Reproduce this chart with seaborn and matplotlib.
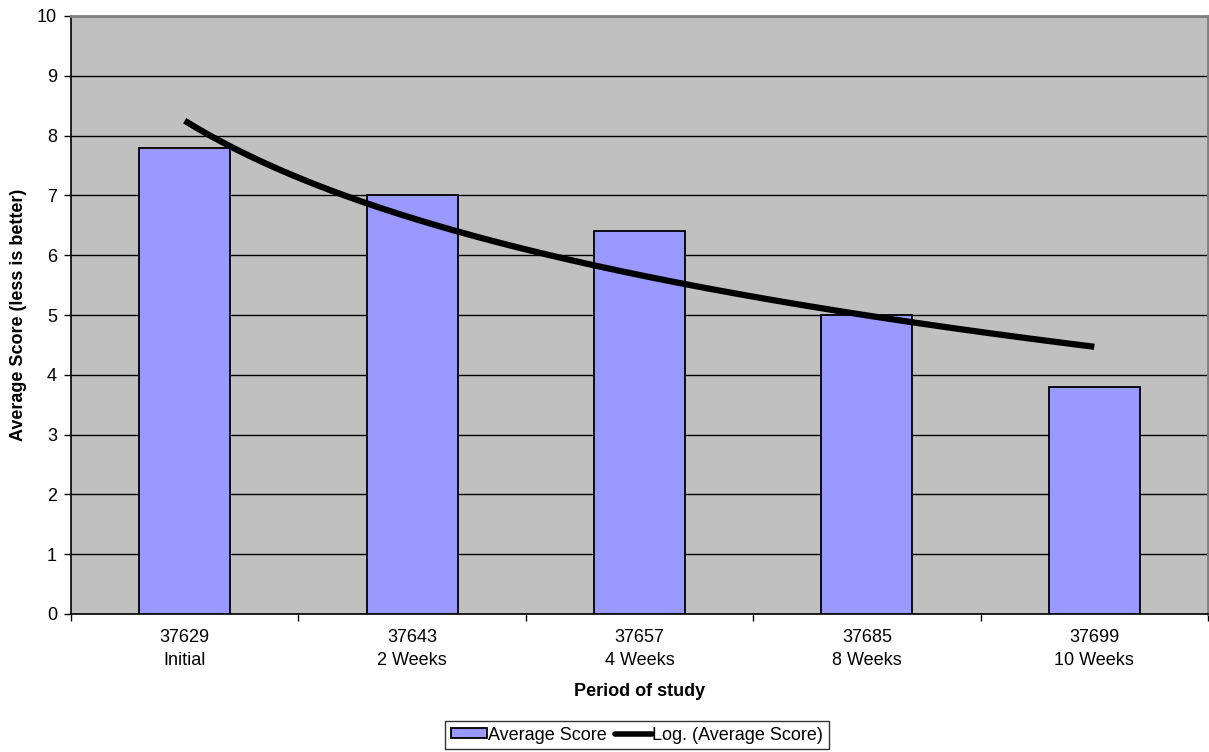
import numpy as np
import pandas as pd
import matplotlib
matplotlib.use("Agg")
import matplotlib.pyplot as plt
import seaborn as sns
from matplotlib.patches import Patch
from matplotlib.lines import Line2D

dates = ["37629", "37643", "37657", "37685", "37699"]
periods = ["Initial", "2 Weeks", "4 Weeks", "8 Weeks", "10 Weeks"]
scores = [7.8, 7.0, 6.4, 5.0, 3.8]

labels = [f"{d}\n{p}" for d, p in zip(dates, periods)]
df = pd.DataFrame({"Period": labels, "Score": scores})

sns.set_theme(style="white")
plt.rcParams["font.family"] = ["Liberation Sans", "DejaVu Sans"]
plt.rcParams["text.color"] = "black"
plt.rcParams["axes.labelcolor"] = "black"
plt.rcParams["xtick.color"] = "black"
plt.rcParams["ytick.color"] = "black"

fig = plt.figure(figsize=(12.09, 7.52), dpi=100)
ax = fig.add_axes([71 / 1209, 1 - 614 / 752, (1208 - 71) / 1209, (614 - 16) / 752])
ax.set_facecolor("#C0C0C0")

sns.barplot(data=df, x="Period", y="Score", ax=ax, color="#9999FF",
            saturation=1, width=0.4, edgecolor="black", linewidth=1.3, zorder=3)

# logarithmic trendline y = a*ln(x) + b fitted to the data
xi = np.arange(1, len(scores) + 1)
a, b = np.polyfit(np.log(xi), scores, 1)
xs = np.linspace(1, len(scores), 200)
ax.plot(xs - 1, a * np.log(xs) + b, color="black", lw=4.5, zorder=4,
        solid_capstyle="butt")

ax.set_xlim(-0.5, len(scores) - 0.5)
ax.set_ylim(0, 10)
ax.set_yticks(range(0, 11))
ax.yaxis.grid(True, color="black", lw=1)
ax.set_axisbelow(True)

# x ticks at category boundaries
ax.set_xticks(np.arange(-0.5, len(scores) + 0.5, 1))
ax.set_xticklabels([])
ax.set_xticks(np.arange(len(scores)), minor=True)
ax.set_xticklabels(labels, minor=True, fontsize=13)
ax.tick_params(axis="x", which="minor", bottom=False, length=0, pad=11, labelcolor="black")
ax.tick_params(axis="x", which="major", bottom=True, length=5, width=1, color="black", direction="out")
ax.tick_params(axis="y", left=True, length=5, width=1, color="black", direction="out",
               labelsize=13, pad=5, labelcolor="black")
for t in ax.get_xticklabels(minor=True):
    t.set_linespacing(1.45)

for s in ["left", "bottom"]:
    ax.spines[s].set_color("black")
    ax.spines[s].set_linewidth(1.2)
for s in ["top", "right"]:
    ax.spines[s].set_color("#808080")
    ax.spines[s].set_linewidth(2)

ax.set_xlabel("Period of study", fontsize=13, fontweight="bold", labelpad=10, color="black")
ax.set_ylabel("Average Score (less is better)", fontsize=13, fontweight="bold", labelpad=7, color="black")

handles = [Patch(facecolor="#9999FF", edgecolor="black", linewidth=1.3),
           Line2D([0], [0], color="black", lw=4)]
leg = fig.legend(handles, ["Average Score", "Log. (Average Score)"],
                 loc="center", bbox_to_anchor=(637 / 1209, 1 - 735 / 752),
                 ncol=2, frameon=True, fancybox=False, fontsize=13,
                 handlelength=2.0, handleheight=0.5, handletextpad=0.05, columnspacing=0.5,
                 borderpad=0.3, borderaxespad=0)
leg.get_frame().set_edgecolor("black")
leg.get_frame().set_linewidth(1)
for t in leg.get_texts():
    t.set_color("black")

fig.savefig("out.png", dpi=100)
